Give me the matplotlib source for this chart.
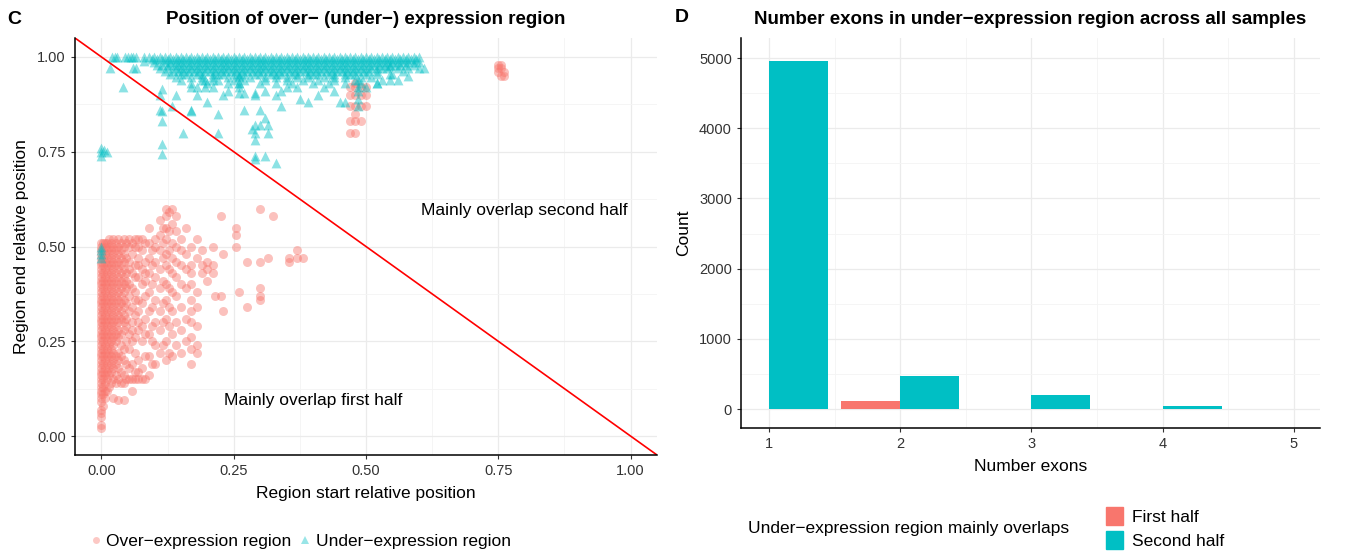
import numpy as np
import matplotlib
matplotlib.use("Agg")
import matplotlib.pyplot as plt
from matplotlib.lines import Line2D
from matplotlib.patches import Patch

plt.rcParams['font.family'] = ['Liberation Sans', 'DejaVu Sans']

RED = '#F8766D'
CYAN = '#00BFC4'

# ---------------- panel C data ----------------
# over-expression regions: (start, [ends])
over_cols = [
    (0.000, [0.02, 0.03, 0.05, 0.06, 0.07, 0.09, 0.10, 0.11, 0.12, 0.13, 0.14, 0.15, 0.16, 0.17, 0.18, 0.19,
             0.20, 0.21, 0.22, 0.23, 0.24, 0.25, 0.26, 0.27, 0.28, 0.29, 0.30, 0.31, 0.32, 0.33, 0.34, 0.35,
             0.36, 0.37, 0.38, 0.39, 0.40, 0.41, 0.42, 0.43, 0.44, 0.45, 0.46, 0.47, 0.48, 0.49, 0.50, 0.51]),
    (0.003, [0.08, 0.11, 0.13, 0.15, 0.17, 0.19, 0.21, 0.23, 0.25, 0.27, 0.29, 0.31, 0.33, 0.35, 0.37, 0.39,
             0.41, 0.43, 0.45, 0.47, 0.49, 0.51]),
    (0.006, [0.10, 0.12, 0.14, 0.16, 0.18, 0.20, 0.22, 0.24, 0.26, 0.28, 0.30, 0.32, 0.34, 0.36, 0.38, 0.40,
             0.42, 0.44, 0.46, 0.48, 0.50, 0.51]),
    (0.010, [0.12, 0.15, 0.17, 0.19, 0.21, 0.23, 0.25, 0.27, 0.29, 0.31, 0.33, 0.35, 0.37, 0.39, 0.41, 0.43,
             0.45, 0.47, 0.49, 0.51]),
    (0.014, [0.13, 0.16, 0.18, 0.20, 0.22, 0.24, 0.26, 0.28, 0.30, 0.32, 0.34, 0.36, 0.38, 0.40, 0.42, 0.44,
             0.46, 0.48, 0.50, 0.52]),
    (0.018, [0.14, 0.17, 0.19, 0.21, 0.23, 0.25, 0.27, 0.29, 0.31, 0.33, 0.35, 0.37, 0.39, 0.41, 0.43, 0.45,
             0.47, 0.49, 0.51]),
    (0.022, [0.10, 0.15, 0.18, 0.20, 0.22, 0.24, 0.26, 0.28, 0.30, 0.32, 0.34, 0.36, 0.38, 0.40, 0.42, 0.44,
             0.46, 0.48, 0.50, 0.52]),
    (0.027, [0.14, 0.16, 0.19, 0.21, 0.25, 0.27, 0.29, 0.31, 0.33, 0.35, 0.37, 0.39, 0.41, 0.43, 0.45, 0.47,
             0.49, 0.51]),
    (0.032, [0.095, 0.15, 0.18, 0.20, 0.22, 0.26, 0.28, 0.30, 0.32, 0.34, 0.36, 0.38, 0.40, 0.42, 0.44, 0.46,
             0.48, 0.50, 0.52]),
    (0.037, [0.14, 0.17, 0.21, 0.24, 0.27, 0.31, 0.33, 0.35, 0.37, 0.39, 0.41, 0.43, 0.45, 0.47, 0.49, 0.51]),
    (0.042, [0.095, 0.14, 0.16, 0.20, 0.23, 0.28, 0.30, 0.32, 0.34, 0.36, 0.38, 0.40, 0.42, 0.44, 0.46, 0.48,
             0.50, 0.52]),
    (0.047, [0.15, 0.19, 0.25, 0.29, 0.31, 0.35, 0.39, 0.41, 0.43, 0.47, 0.51]),
    (0.052, [0.15, 0.18, 0.23, 0.27, 0.33, 0.37, 0.40, 0.44, 0.46, 0.50, 0.52]),
    (0.058, [0.12, 0.15, 0.19, 0.25, 0.28, 0.30, 0.34, 0.39, 0.43, 0.48, 0.51]),
    (0.064, [0.15, 0.17, 0.22, 0.26, 0.32, 0.36, 0.38, 0.42, 0.45, 0.50, 0.52]),
    (0.070, [0.15, 0.17, 0.20, 0.28, 0.30, 0.33, 0.36, 0.42, 0.45, 0.47, 0.50, 0.52]),
    (0.076, [0.15, 0.18, 0.25, 0.29, 0.35, 0.40, 0.44, 0.49, 0.52]),
    (0.082, [0.15, 0.21, 0.27, 0.31, 0.37, 0.41, 0.43, 0.46, 0.51]),
    (0.090, [0.16, 0.21, 0.27, 0.33, 0.38, 0.43, 0.47, 0.51, 0.55]),
    (0.096, [0.19, 0.25, 0.29, 0.34, 0.40, 0.45, 0.49]),
    (0.102, [0.19, 0.24, 0.30, 0.36, 0.42, 0.46, 0.50, 0.52]),
    (0.110, [0.22, 0.28, 0.33, 0.39, 0.44, 0.49, 0.53, 0.57]),
    (0.116, [0.24, 0.30, 0.35, 0.41, 0.47, 0.51, 0.55]),
    (0.122, [0.20, 0.25, 0.31, 0.36, 0.40, 0.45, 0.48, 0.52, 0.55, 0.58, 0.60]),
    (0.128, [0.22, 0.29, 0.34, 0.39, 0.44, 0.49, 0.54, 0.59]),
    (0.134, [0.21, 0.27, 0.33, 0.38, 0.43, 0.47, 0.51, 0.56, 0.60]),
    (0.140, [0.24, 0.30, 0.37, 0.42, 0.46, 0.50, 0.54, 0.58]),
    (0.150, [0.22, 0.28, 0.34, 0.40, 0.45, 0.49, 0.52]),
    (0.160, [0.25, 0.31, 0.39, 0.44, 0.48, 0.55]),
    (0.170, [0.19, 0.23, 0.26, 0.30, 0.33, 0.36, 0.40, 0.43, 0.45, 0.50]),
    (0.180, [0.22, 0.24, 0.29, 0.34, 0.38, 0.47, 0.52]),
    (0.190, [0.43, 0.45, 0.49]),
    (0.200, [0.41, 0.44, 0.46]),
    (0.210, [0.43, 0.45, 0.50]),
    (0.215, [0.37]),
    (0.225, [0.37, 0.58]),
    (0.230, [0.33, 0.48]),
    (0.255, [0.50, 0.53, 0.55]),
    (0.260, [0.38]),
    (0.275, [0.34, 0.46]),
    (0.300, [0.36, 0.37, 0.39, 0.46, 0.60]),
    (0.315, [0.47]),
    (0.325, [0.58]),
    (0.355, [0.46, 0.47]),
    (0.370, [0.47, 0.49]),
    (0.380, [0.47]),
    (0.470, [0.80, 0.83, 0.87, 0.90, 0.92]),
    (0.480, [0.80, 0.83, 0.85, 0.87, 0.90, 0.92, 0.93]),
    (0.490, [0.83, 0.87, 0.90, 0.92]),
    (0.500, [0.87, 0.90, 0.92]),
    (0.750, [0.96, 0.97, 0.98]),
    (0.755, [0.95, 0.97, 0.98]),
    (0.760, [0.95, 0.96]),
]

# under-expression regions: dense band near the top, as (end, [starts])
under_rows = [
    (1.000, [0.02, 0.025, 0.03, 0.045, 0.05, 0.055, 0.06, 0.065, 0.08, 0.09, 0.10, 0.11, 0.12, 0.13, 0.14, 0.15,
             0.16, 0.17, 0.18, 0.19, 0.20, 0.21, 0.22, 0.23, 0.24, 0.25, 0.26, 0.27, 0.28, 0.29, 0.30, 0.31,
             0.32, 0.33, 0.34, 0.35, 0.36, 0.37, 0.38, 0.39, 0.40, 0.41, 0.42, 0.43, 0.44, 0.45, 0.46, 0.47,
             0.48, 0.49, 0.50, 0.51, 0.52, 0.53, 0.54, 0.55, 0.56, 0.57, 0.58, 0.59, 0.60]),
    (0.995, [0.095, 0.105, 0.115, 0.125, 0.135, 0.145, 0.155, 0.165, 0.175, 0.185, 0.195, 0.205, 0.215, 0.225,
             0.235, 0.245, 0.255, 0.265, 0.275, 0.285, 0.295, 0.305, 0.315, 0.325, 0.335, 0.345, 0.355, 0.365,
             0.375, 0.385, 0.395, 0.405, 0.415, 0.425, 0.435, 0.445, 0.455, 0.465, 0.475, 0.485, 0.495, 0.505,
             0.515, 0.525, 0.535, 0.545, 0.555, 0.565, 0.575, 0.585, 0.595]),
    (0.988, [0.10, 0.12, 0.13, 0.14, 0.15, 0.16, 0.17, 0.18, 0.19, 0.20, 0.21, 0.22, 0.23, 0.24, 0.25, 0.26,
             0.27, 0.28, 0.29, 0.30, 0.31, 0.32, 0.33, 0.34, 0.35, 0.36, 0.37, 0.38, 0.39, 0.40, 0.41, 0.42,
             0.43, 0.44, 0.45, 0.46, 0.47, 0.48, 0.49, 0.50, 0.51, 0.52, 0.53, 0.54, 0.55, 0.56, 0.57, 0.58,
             0.59, 0.60]),
    (0.980, [0.105, 0.115, 0.125, 0.135, 0.145, 0.155, 0.165, 0.175, 0.185, 0.195, 0.205, 0.215, 0.225, 0.235,
             0.245, 0.255, 0.265, 0.275, 0.285, 0.295, 0.305, 0.315, 0.325, 0.335, 0.345, 0.355, 0.365, 0.375,
             0.385, 0.395, 0.405, 0.415, 0.425, 0.435, 0.445, 0.455, 0.465, 0.475, 0.485, 0.495, 0.505, 0.515,
             0.525, 0.535, 0.545, 0.555, 0.565, 0.575, 0.59]),
    (0.972, [0.11, 0.125, 0.14, 0.15, 0.16, 0.17, 0.18, 0.19, 0.20, 0.21, 0.22, 0.23, 0.24, 0.25, 0.26, 0.27,
             0.28, 0.29, 0.30, 0.31, 0.32, 0.33, 0.34, 0.35, 0.36, 0.37, 0.38, 0.39, 0.40, 0.41, 0.42, 0.43,
             0.44, 0.45, 0.46, 0.47, 0.48, 0.49, 0.50, 0.51, 0.52, 0.53, 0.54, 0.56, 0.58, 0.60]),
    (0.964, [0.12, 0.135, 0.145, 0.155, 0.165, 0.175, 0.185, 0.195, 0.205, 0.215, 0.225, 0.235, 0.245, 0.255,
             0.265, 0.275, 0.285, 0.295, 0.305, 0.315, 0.325, 0.335, 0.345, 0.355, 0.365, 0.375, 0.385, 0.395,
             0.405, 0.415, 0.425, 0.435, 0.445, 0.455, 0.465, 0.475, 0.485, 0.495, 0.505, 0.52, 0.57]),
    (0.956, [0.13, 0.15, 0.16, 0.18, 0.19, 0.21, 0.22, 0.23, 0.25, 0.26, 0.27, 0.29, 0.30, 0.32, 0.33, 0.34,
             0.36, 0.37, 0.39, 0.40, 0.41, 0.43, 0.44, 0.46, 0.47, 0.48, 0.50, 0.52, 0.55]),
    (0.948, [0.14, 0.17, 0.19, 0.21, 0.24, 0.26, 0.28, 0.31, 0.33, 0.35, 0.37, 0.39, 0.42, 0.44, 0.46, 0.49,
             0.51]),
    (0.940, [0.15, 0.19, 0.22, 0.25, 0.27, 0.31, 0.35, 0.38, 0.41, 0.44, 0.48, 0.53]),
    (0.930, [0.17, 0.20, 0.24, 0.26, 0.30, 0.33, 0.36, 0.40, 0.43, 0.46, 0.49, 0.52]),
]

# under-expression regions: scattered points below the band
under_start = [0.017, 0.04, 0.06, 0.065, 0.08, 0.115, 0.17, 0.18, 0.195, 0.21, 0.195, 0.21, 0.115, 0.134,
               0.17, 0.115, 0.155, 0.115, 0.115, 0.22, 0.0, 0.0, 0.0, 0.005, 0.01, 0.285, 0.26, 0.27,
               0.29, 0.26, 0.26, 0.26, 0.29, 0.31, 0.34, 0.31, 0.29, 0.30, 0.315, 0.29, 0.315, 0.29,
               0.29, 0.29, 0.31, 0.33, 0.30, 0.27, 0.34, 0.20, 0.17, 0.11, 0.11, 0.375, 0.39, 0.41,
               0.45, 0.46, 0.485, 0.485, 0.485, 0.485, 0.485, 0.50, 0.545, 0.545, 0.545, 0.56, 0.58,
               0.61, 0.0, 0.0, 0.0, 0.0, 0.24, 0.35, 0.37, 0.42, 0.52, 0.44, 0.33, 0.23, 0.14, 0.18, 0.22]
under_end = [0.97, 0.92, 0.97, 0.97, 0.99, 0.915, 0.92, 0.92, 0.92, 0.92, 0.94, 0.94, 0.857, 0.87,
             0.857, 0.83, 0.80, 0.77, 0.745, 0.80, 0.74, 0.75, 0.76, 0.755, 0.75, 0.81, 0.905, 0.905,
             0.905, 0.92, 0.93, 0.95, 0.90, 0.91, 0.91, 0.84, 0.82, 0.82, 0.82, 0.80, 0.80, 0.78,
             0.74, 0.73, 0.74, 0.72, 0.86, 0.86, 0.87, 0.88, 0.86, 0.86, 0.90, 0.89, 0.88, 0.90,
             0.88, 0.88, 0.87, 0.89, 0.91, 0.92, 0.94, 0.92, 0.94, 0.955, 0.975, 0.94, 0.95,
             0.97, 0.47, 0.48, 0.49, 0.50, 0.91, 0.92, 0.92, 0.92, 0.93, 0.91, 0.90, 0.90, 0.90, 0.90, 0.85]

# ---------------- panel D data ----------------
n_exons = [1, 2, 3, 4, 5]
first_half = [0, 115, 0, 0, 0]
second_half = [4960, 470, 200, 40, 5]

# flatten panel C groups
ox = [x for x, ys in over_cols for _ in ys]
oy = [y for _, ys in over_cols for y in ys]
ux = [x for y, xs in under_rows for x in xs] + under_start
uy = [y for y, xs in under_rows for _ in xs] + under_end

fig = plt.figure(figsize=(13.45, 5.57), dpi=100)


def style(ax):
    for s in ['top', 'right']:
        ax.spines[s].set_visible(False)
    for s in ['left', 'bottom']:
        ax.spines[s].set_color('black')
        ax.spines[s].set_linewidth(1.1)
    ax.tick_params(labelsize=10.5, colors='#333333', length=3, width=0.8)
    ax.tick_params(which='minor', length=0)
    ax.grid(True, which='major', color='#ebebeb', lw=0.9)
    ax.grid(True, which='minor', color='#f4f4f4', lw=0.6)
    ax.set_axisbelow(True)


# ---------------- panel C ----------------
axC = fig.add_axes([75 / 1345, 1 - 455 / 557, 582 / 1345, 417 / 557])
style(axC)
axC.scatter(ox, oy, s=42, color=RED, alpha=0.45, lw=0, marker='o')
axC.scatter(ux, uy, s=50, color=CYAN, alpha=0.45, lw=0, marker='^')
axC.axline((0, 1), slope=-1, color='red', lw=1.2)
axC.set_xlim(-0.05, 1.05)
axC.set_ylim(-0.05, 1.05)
ticks = [0, 0.25, 0.5, 0.75, 1.0]
axC.set_xticks(ticks)
axC.set_yticks(ticks)
axC.set_xticklabels(['0.00', '0.25', '0.50', '0.75', '1.00'])
axC.set_yticklabels(['0.00', '0.25', '0.50', '0.75', '1.00'])
axC.set_xticks([0.125, 0.375, 0.625, 0.875], minor=True)
axC.set_yticks([0.125, 0.375, 0.625, 0.875], minor=True)
axC.set_xlabel('Region start relative position', fontsize=12.5, labelpad=6)
axC.set_ylabel('Region end relative position', fontsize=12.5, labelpad=6)
axC.set_title('Position of over\u2212 (under\u2212) expression region', fontsize=13.5,
              fontweight='bold', pad=10)
axC.text(0.80, 0.595, 'Mainly overlap second half', fontsize=12.5, ha='center', va='center')
axC.text(0.40, 0.095, 'Mainly overlap first half', fontsize=12.5, ha='center', va='center')

handles = [Line2D([], [], marker='o', ls='', color=RED, alpha=0.4, markersize=5, mew=0),
           Line2D([], [], marker='^', ls='', color=CYAN, alpha=0.4, markersize=5.5, mew=0)]
fig.legend(handles, ['Over\u2212expression region', 'Under\u2212expression region'],
           loc='center left', bbox_to_anchor=(80 / 1345, 1 - 541 / 557), ncol=2, frameon=False,
           fontsize=12.5, handlelength=0.8, handletextpad=0.2, columnspacing=0.4, borderpad=0)

# ---------------- panel D ----------------
axD = fig.add_axes([741 / 1345, 1 - 428 / 557, 579 / 1345, 390 / 557])
style(axD)
xs = np.array(n_exons)
axD.bar(xs - 0.225, first_half, width=0.45, color=RED)
axD.bar(xs + 0.225, second_half, width=0.45, color=CYAN)
axD.set_xlim(0.787, 5.2)
axD.set_ylim(-270, 5285)
axD.set_xticks(n_exons)
axD.set_yticks([0, 1000, 2000, 3000, 4000, 5000])
axD.set_xticks([1.5, 2.5, 3.5, 4.5], minor=True)
axD.set_yticks([500, 1500, 2500, 3500, 4500], minor=True)
axD.set_xlabel('Number exons', fontsize=12.5, labelpad=6)
axD.set_ylabel('Count', fontsize=12.5, labelpad=6)
axD.set_title('Number exons in under\u2212expression region across all samples', fontsize=13.5,
              fontweight='bold', pad=10)

fig.text(748 / 1345, 1 - 528 / 557, 'Under\u2212expression region mainly overlaps', fontsize=12.5,
         ha='left', va='center')
fig.legend([Patch(color=RED), Patch(color=CYAN)], ['First half', 'Second half'],
           loc='center left', bbox_to_anchor=(1097 / 1345, 1 - 528 / 557), frameon=False,
           fontsize=12.5, handlelength=1.0, handleheight=1.2, handletextpad=0.5, labelspacing=0.35,
           borderpad=0)

fig.text(14 / 1345, 1 - 20 / 557, 'C', fontsize=14, fontweight='bold', ha='center', va='center')
fig.text(682 / 1345, 1 - 18 / 557, 'D', fontsize=14, fontweight='bold', ha='center', va='center')

fig.savefig('out.png', dpi=100)
